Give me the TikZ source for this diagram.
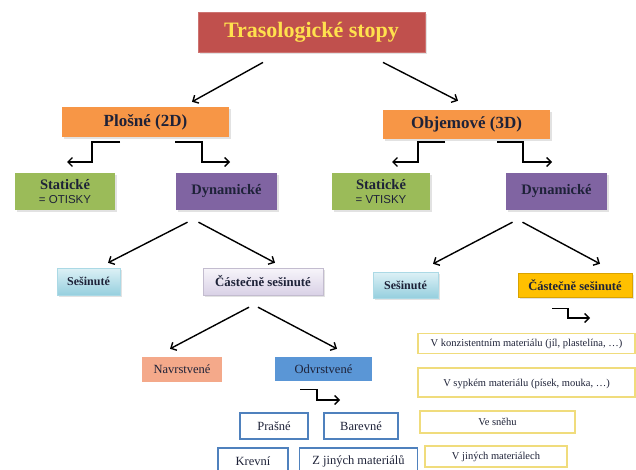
\documentclass[tikz,border=0pt]{standalone}
\usepackage{fontspec}
\setmainfont{Liberation Serif}
\newfontfamily\labsans{Liberation Sans}
\usetikzlibrary{arrows.meta,shadows,calc}
\definecolor{titlered}{HTML}{C0504D}
\definecolor{titletext}{HTML}{FFE14D}
\definecolor{orangebox}{HTML}{F79646}
\definecolor{greenbox}{HTML}{9BBB59}
\definecolor{purplebox}{HTML}{8064A2}
\definecolor{cyantop}{HTML}{DDF1F6}
\definecolor{cyanbot}{HTML}{96CFDE}
\definecolor{lavtop}{HTML}{F7F5FA}
\definecolor{lavbot}{HTML}{D9D1E6}
\definecolor{goldbox}{HTML}{FFC000}
\definecolor{salmonbox}{HTML}{F4A98A}
\definecolor{bluebox}{HTML}{5A96D6}
\definecolor{blueline}{HTML}{4F81BD}
\definecolor{yelline}{HTML}{F0DC7C}
\definecolor{darktext}{HTML}{1E2238}
\tikzset{
  box/.style={rectangle, inner sep=0pt, align=center, text=darktext,
    drop shadow={shadow xshift=1.5pt, shadow yshift=-2pt, fill=black!22}},
  plainbox/.style={rectangle, inner sep=0pt, align=center, text=darktext},
  arr/.style={line width=1.4pt, -{Straight Barb[length=4.5pt,width=9pt]}},
  whitebox/.style={plainbox, fill=white, draw=blueline, line width=1.1pt,
    font=\fontsize{12.5}{14}\selectfont},
  matbox/.style={plainbox, fill=white, draw=yelline, line width=1.3pt,
    font=\fontsize{10.5}{12}\selectfont}
}
\begin{document}
\begin{tikzpicture}[x=1pt,y=-1pt]
\useasboundingbox (0,0) rectangle (636,470);
\fill[white] (0,0) rectangle (636,470);

% level 1
\node[box, fill=titlered, draw=titlered!80!white, line width=0.8pt,
  minimum width=227pt, minimum height=40pt, text=titletext,
  font=\fontsize{22}{25}\selectfont\bfseries] (title) at (311.5,32) {Trasologické stopy};

% level 2
\node[box, fill=orangebox, minimum width=167pt, minimum height=30pt,
  font=\fontsize{17}{19}\selectfont\bfseries] (plosne) at (145.5,122) {Plošné (2D)};
\node[box, fill=orangebox, minimum width=167pt, minimum height=29pt,
  font=\fontsize{17}{19}\selectfont\bfseries] (objem) at (466.5,124.5) {Objemové (3D)};

% level 3
\node[box, fill=greenbox, minimum width=100pt, minimum height=37pt,
  font=\fontsize{14.5}{15}\selectfont\bfseries] (stat2) at (65,191.5)
  {Statické\\[-1pt]{\labsans\mdseries\fontsize{11.5}{13}\selectfont = OTISKY}};
\node[box, fill=purplebox, minimum width=101pt, minimum height=37pt,
  font=\fontsize{14.5}{16}\selectfont\bfseries] (dyn2) at (226.5,191.5) {Dynamické};
\node[box, fill=greenbox, minimum width=98pt, minimum height=37pt,
  font=\fontsize{14.5}{15}\selectfont\bfseries] (stat3) at (381,191.5)
  {Statické\\[-1pt]{\labsans\mdseries\fontsize{11.5}{13}\selectfont = VTISKY}};
\node[box, fill=purplebox, minimum width=101pt, minimum height=37pt,
  font=\fontsize{14.5}{16}\selectfont\bfseries] (dyn3) at (556.5,191.5) {Dynamické};

% level 4
\node[box, top color=cyantop, bottom color=cyanbot, draw=cyanbot!80!white,
  minimum width=63pt, minimum height=27pt,
  font=\fontsize{12}{14}\selectfont\bfseries] (ses2) at (88.5,281.5) {Sešinuté};
\node[box, top color=lavtop, bottom color=lavbot, draw=lavbot!90!black,
  minimum width=120pt, minimum height=27pt,
  font=\fontsize{12.8}{14}\selectfont\bfseries] (cast2) at (263,281.5) {Částečně sešinuté};
\node[box, top color=cyantop, bottom color=cyanbot, draw=cyanbot!80!white,
  minimum width=65pt, minimum height=26pt,
  font=\fontsize{12}{14}\selectfont\bfseries] (ses3) at (405.5,285) {Sešinuté};
\node[box, fill=goldbox, draw=goldbox!85!black,
  minimum width=114pt, minimum height=24pt,
  font=\fontsize{12.5}{14}\selectfont\bfseries] (cast3) at (575,285) {Částečně sešinuté};

% level 5 (left)
\node[plainbox, fill=salmonbox, minimum width=80pt, minimum height=25pt,
  font=\fontsize{12.5}{14}\selectfont] (navr) at (182,369.5) {Navrstvené};
\node[plainbox, fill=bluebox, minimum width=97pt, minimum height=24pt,
  font=\fontsize{12.5}{14}\selectfont] (odvr) at (323.5,369) {Odvrstvené};

% level 6 (left)
\node[whitebox, minimum width=68pt, minimum height=26pt] (prasne) at (274,426) {Prašné};
\node[whitebox, minimum width=74pt, minimum height=26pt] (barevne) at (361,426) {Barevné};
\node[whitebox, minimum width=70pt, minimum height=26pt] (krevni) at (253,461) {Krevní};
\node[whitebox, minimum width=118pt, minimum height=26pt] (zjinych) at (358.5,461) {Z jiných materiálů};

% right materials
\node[matbox, minimum width=217pt, minimum height=20pt] (m1) at (526.5,343.5)
  {V konzistentním materiálu (jíl, plastelína, …)};
\node[matbox, minimum width=217pt, minimum height=29pt, text depth=-4pt] (m2) at (526.5,382.5)
  {V sypkém materiálu (písek, mouka, …)};
\node[matbox, minimum width=155pt, minimum height=22pt] (m3) at (497.5,422) {Ve sněhu};
\node[matbox, minimum width=142pt, minimum height=21pt] (m4) at (496,456.5) {V jiných materiálech};

% free ends of elbow connectors
\coordinate (e1) at (67,162);
\coordinate (e2) at (230,162);
\coordinate (e3) at (392,162);
\coordinate (e4) at (552,162);
\coordinate (e5) at (590,318);
\coordinate (e6) at (340,400);

% connectors
\draw[arr] ([xshift=-48.5pt,yshift=-10pt]title.south) -- ([xshift=46.5pt,yshift=5pt]plosne.north);
\draw[arr] ([xshift=71.5pt,yshift=-10pt]title.south) -- ([xshift=-8.5pt,yshift=9pt]objem.north);

\draw[arr] ([xshift=-25.5pt,yshift=-5pt]plosne.south) -- ++(-28,0) |- (e1);
\draw[arr] ([xshift=29.5pt,yshift=-5pt]plosne.south) -- ++(27,0) |- (e2);
\draw[arr] ([xshift=-21.5pt,yshift=-3pt]objem.south) -- ++(-27,0) |- (e3);
\draw[arr] ([xshift=30.5pt,yshift=-3pt]objem.south) -- ++(26,0) |- (e4);

\draw[arr] ([xshift=-39pt,yshift=-12pt]dyn2.south) -- ([xshift=19.5pt,yshift=5pt]ses2.north);
\draw[arr] ([xshift=-28pt,yshift=-12pt]dyn2.south) -- ([xshift=12pt,yshift=5pt]cast2.north);
\draw[arr] ([xshift=-44pt,yshift=-12pt]dyn3.south) -- ([xshift=27.5pt,yshift=8pt]ses3.north);
\draw[arr] ([xshift=-34pt,yshift=-12pt]dyn3.south) -- ([xshift=25pt,yshift=9pt]cast3.north);

\draw[arr] ([xshift=-23pt,yshift=-11pt]cast3.south) -- ++(16,0) |- (e5);

\draw[arr] ([xshift=-14pt,yshift=-12pt]cast2.south) -- ([xshift=-12pt,yshift=8pt]navr.north);
\draw[arr] ([xshift=-5pt,yshift=-12pt]cast2.south) -- ([xshift=13.5pt,yshift=8pt]odvr.north);

\draw[arr] ([xshift=-23.5pt,yshift=-8pt]odvr.south) -- ++(17,0) |- (e6);
\end{tikzpicture}
\end{document}
